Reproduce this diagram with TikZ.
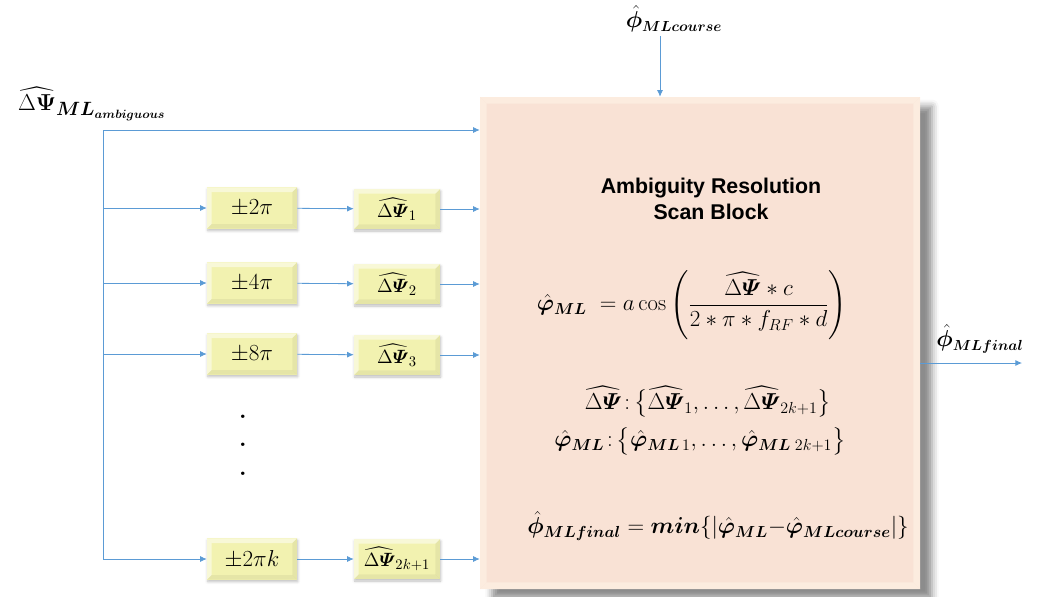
\documentclass[tikz,border=0pt]{standalone}
\usepackage{amsmath}
\usepackage{bm}
\usepackage{fontspec}
\usetikzlibrary{arrows.meta, positioning, fit, shadows.blur}
\newfontfamily\headfont{Liberation Sans}
\definecolor{LinkBlue}{HTML}{5B9BD5}
\definecolor{StepYellow}{HTML}{F2F2B0}
\definecolor{BlockPeach}{HTML}{F9E2D5}
\definecolor{BlockRim}{HTML}{FCECDF}
% bevelled rim inside a path picture: depth, upper/left look, lower/right look
\newcommand{\bevelrim}[3]{%
  \fill[#2] (path picture bounding box.north west) -- (path picture bounding box.north east)
    -- ([shift={(-#1,-#1)}]path picture bounding box.north east)
    -- ([shift={(#1,-#1)}]path picture bounding box.north west) -- cycle;
  \fill[#2] (path picture bounding box.north west) -- ([shift={(#1,-#1)}]path picture bounding box.north west)
    -- ([shift={(#1,#1)}]path picture bounding box.south west) -- (path picture bounding box.south west) -- cycle;
  \fill[#3] (path picture bounding box.south west) -- ([shift={(#1,#1)}]path picture bounding box.south west)
    -- ([shift={(-#1,#1)}]path picture bounding box.south east) -- (path picture bounding box.south east) -- cycle;
  \fill[#3] (path picture bounding box.south east) -- ([shift={(-#1,#1)}]path picture bounding box.south east)
    -- ([shift={(-#1,-#1)}]path picture bounding box.north east) -- (path picture bounding box.north east) -- cycle;
}
\tikzset{
    % Blocks
    scanblock/.style={
        rectangle,
        fill=BlockPeach,
        inner sep=0pt,
        path picture={\bevelrim{5pt}{BlockRim}{BlockRim}},
        blur shadow={shadow xshift=9pt, shadow yshift=-7pt, shadow blur radius=5pt, shadow opacity=45}
    },
    stepbox/.style={
        rectangle,
        fill=StepYellow,
        minimum width=67.5pt,
        minimum height=31pt,
        inner sep=0pt,
        font=\fontsize{18}{20}\selectfont,
        path picture={\bevelrim{3.5pt}{white,opacity=0.5}{black,opacity=0.05}},
        blur shadow={shadow xshift=0.5pt, shadow yshift=-1.5pt, shadow blur radius=2pt, shadow opacity=25}
    },
    psibox/.style={
        stepbox,
        minimum width=64.5pt,
        minimum height=30pt,
        font=\fontsize{15}{18}\selectfont
    },
    % Texts
    headtext/.style={
        align=center,
        font=\headfont\bfseries\fontsize{16}{20}\selectfont
    },
    mathtext/.style={
        font=\fontsize{17}{20}\selectfont
    },
    labeltext/.style={
        font=\fontsize{16}{19}\selectfont
    },
    dotmark/.style={
        inner sep=0pt,
        font=\bfseries\fontsize{18}{20}\selectfont
    },
    % Connectors
    link/.style={
        -{Latex[length=5pt,width=4.5pt]},
        line width=0.6pt,
        draw=LinkBlue
    },
    bus/.style={
        line width=0.6pt,
        draw=LinkBlue
    }
}

\begin{document}
\begin{tikzpicture}[x=0.75pt, y=-0.75pt]
    \useasboundingbox (0,0) rectangle (1037,596);

    % Scan block
    \node[scanblock, fit={(480,97) (920,589)}] (scan) {};
    \node[headtext] (title) at (711,199) {Ambiguity Resolution\\Scan Block};
    \node[mathtext] (acos) at (692,305) {$\displaystyle\hat{\bm{\varphi}}_{\bm{ML}}\;= a\cos\left(\frac{\widehat{\Delta\bm{\varPsi}}*c}{2*\pi*f_{RF}*d}\right)$};
    \node[mathtext] (setpsi) at (708,402) {$\widehat{\Delta\bm{\varPsi}}\colon\!\bigl\{\widehat{\Delta\bm{\varPsi}}_1,\dots,\widehat{\Delta\bm{\varPsi}}_{2k+1}\bigr\}$};
    \node[mathtext] (setphi) at (700,441) {$\hat{\bm{\varphi}}_{\bm{ML}}\colon\!\bigl\{\hat{\bm{\varphi}}_{\bm{ML}\,1},\dots,\hat{\bm{\varphi}}_{\bm{ML}\;2k+1}\bigr\}$};
    \node[mathtext] (final) at (718,526) {$\hat{\bm{\phi}}_{\bm{MLfinal}} = \bm{min}\{|\hat{\bm{\varphi}}_{\bm{ML}}{-}\hat{\bm{\varphi}}_{\bm{MLcourse}}|\}$};

    % Inputs and outputs
    \node[labeltext, font=\fontsize{19}{22}\selectfont] (ambig) at (92,104) {$\widehat{\Delta\bm{\Psi}}_{\bm{ML}_{\bm{ambiguous}}}$};
    \node[labeltext] (course) at (674,19) {$\hat{\bm{\phi}}_{\bm{MLcourse}}$};
    \node[labeltext] (flabel) at (980,339) {$\hat{\bm{\phi}}_{\bm{MLfinal}}$};
    \coordinate (bustop) at (103,130);
    \coordinate (cin) at (660,36);
    \coordinate (fout) at (1022,363);

    % Shift branches
    \node[stepbox] (p1) at (252,208) {$\pm2\pi$};
    \node[stepbox] (p2) at (252,283) {$\pm4\pi$};
    \node[stepbox] (p3) at (252,354) {$\pm8\pi$};
    \node[stepbox] (p4) at (252,559) {$\pm2\pi k$};
    \node[psibox] (d1) at (397,209) {$\widehat{\Delta\bm{\varPsi}}_1$};
    \node[psibox] (d2) at (397,284) {$\widehat{\Delta\bm{\varPsi}}_2$};
    \node[psibox] (d3) at (397,355) {$\widehat{\Delta\bm{\varPsi}}_3$};
    \node[psibox] (d4) at (397,559) {$\widehat{\Delta\bm{\varPsi}}_{2k+1}$};
    \node[dotmark] (dot1) at (243,417) {.};
    \node[dotmark] (dot2) at (243,445) {.};
    \node[dotmark] (dot3) at (243,474) {.};

    % Connectors
    \draw[bus] (bustop) -- (bustop |- p4);
    \draw[link] (bustop) -- (bustop -| scan.west);
    \foreach \i in {1,2,3,4} {
        \draw[link] (bustop |- p\i) -- (p\i);
        \draw[link] (p\i) -- (d\i);
        \draw[link] (d\i) -- (d\i -| scan.west);
    }
    \draw[link] (cin) -- (cin |- scan.north);
    \draw[link] (fout -| scan.east) -- (fout);
\end{tikzpicture}
\end{document}
